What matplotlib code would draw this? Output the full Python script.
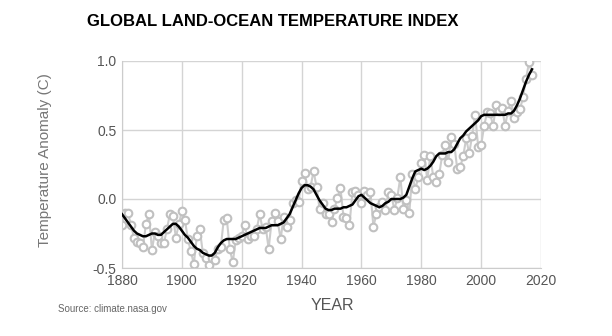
import matplotlib.pyplot as plt
import numpy as np

# GISTEMP annual mean and lowess smoothing, 1880-2017
years = np.arange(1880, 2018)
annual = [-0.19, -0.10, -0.10, -0.19, -0.28, -0.31, -0.32, -0.35, -0.18, -0.11,
          -0.37, -0.24, -0.27, -0.32, -0.32, -0.22, -0.11, -0.12, -0.28, -0.18,
          -0.09, -0.15, -0.29, -0.38, -0.47, -0.27, -0.22, -0.39, -0.43, -0.48,
          -0.43, -0.44, -0.36, -0.35, -0.15, -0.14, -0.36, -0.46, -0.30, -0.28,
          -0.27, -0.19, -0.29, -0.27, -0.27, -0.22, -0.11, -0.22, -0.20, -0.36,
          -0.16, -0.10, -0.16, -0.29, -0.13, -0.20, -0.15, -0.03, -0.01, -0.02,
          0.13, 0.19, 0.07, 0.09, 0.20, 0.09, -0.07, -0.03, -0.11, -0.11,
          -0.17, -0.07, 0.01, 0.08, -0.13, -0.14, -0.19, 0.05, 0.06, 0.03,
          -0.03, 0.06, 0.03, 0.05, -0.20, -0.11, -0.06, -0.02, -0.08, 0.05,
          0.03, -0.08, 0.01, 0.16, -0.07, -0.01, -0.10, 0.18, 0.07, 0.16,
          0.26, 0.32, 0.14, 0.31, 0.16, 0.12, 0.18, 0.32, 0.39, 0.27,
          0.45, 0.40, 0.22, 0.23, 0.31, 0.44, 0.33, 0.46, 0.61, 0.38,
          0.39, 0.53, 0.63, 0.62, 0.53, 0.68, 0.64, 0.66, 0.53, 0.64,
          0.71, 0.59, 0.63, 0.65, 0.74, 0.87, 0.99, 0.90]
smooth = [-0.11, -0.14, -0.17, -0.20, -0.23, -0.25, -0.26, -0.27, -0.27, -0.26,
          -0.25, -0.25, -0.26, -0.26, -0.24, -0.22, -0.20, -0.18, -0.18, -0.20,
          -0.23, -0.26, -0.28, -0.31, -0.34, -0.36, -0.37, -0.39, -0.40, -0.41,
          -0.41, -0.39, -0.35, -0.32, -0.30, -0.29, -0.29, -0.29, -0.29, -0.28,
          -0.27, -0.26, -0.25, -0.24, -0.23, -0.22, -0.21, -0.21, -0.21, -0.20,
          -0.19, -0.19, -0.19, -0.18, -0.17, -0.14, -0.11, -0.06, -0.01, 0.04,
          0.08, 0.10, 0.10, 0.09, 0.07, 0.03, -0.01, -0.04, -0.07, -0.08,
          -0.08, -0.07, -0.07, -0.07, -0.06, -0.06, -0.05, -0.04, -0.01, 0.02,
          0.03, 0.01, -0.01, -0.03, -0.04, -0.05, -0.06, -0.05, -0.03, -0.02,
          -0.00, 0.00, 0.00, -0.00, 0.01, 0.03, 0.09, 0.15, 0.20, 0.21,
          0.22, 0.21, 0.22, 0.24, 0.27, 0.31, 0.33, 0.33, 0.33, 0.34,
          0.34, 0.36, 0.40, 0.44, 0.46, 0.49, 0.51, 0.53, 0.55, 0.57,
          0.60, 0.61, 0.61, 0.61, 0.61, 0.61, 0.61, 0.61, 0.61, 0.62,
          0.62, 0.64, 0.68, 0.73, 0.79, 0.85, 0.90, 0.94]

x_ticks = np.arange(1880, 2021, 20)
y_ticks = [-0.5, 0.0, 0.5, 1.0]

plt.rcParams['font.family'] = ['Liberation Sans', 'DejaVu Sans']
fig = plt.figure(figsize=(6.12, 3.36), dpi=100)
ax = fig.add_axes([122/612, 1 - 268/336, 419/612, 207/336])

ax.plot(years, annual, color='#cccccc', lw=1.5, marker='o', ms=5.5,
        mfc='white', mec='#c0c0c0', mew=1.5, zorder=2)
ax.plot(years, smooth, color='black', lw=1.8, zorder=3)

ax.set_xlim(1880, 2020)
ax.set_ylim(-0.5, 1.0)
ax.set_xticks(x_ticks)
ax.set_yticks(y_ticks)
ax.set_yticklabels(['%.1f' % v for v in y_ticks])
ax.grid(True, color='#d4d4d4', lw=1)
ax.set_axisbelow(True)
for s in ['top', 'right']:
    ax.spines[s].set_visible(False)
for s in ['left', 'bottom']:
    ax.spines[s].set_color('#cccccc')
ax.tick_params(length=0, labelsize=10, colors='#555555', pad=4)

fig.text(273/612, 1 - 22/336, 'GLOBAL LAND-OCEAN TEMPERATURE INDEX',
         ha='center', va='center', fontsize=12, fontweight='bold',
         color='black')
fig.text(45/612, 1 - 160/336, 'Temperature Anomaly (C)', rotation=90,
         ha='center', va='center', fontsize=11, color='#777777')
fig.text(332/612, 1 - 305/336, 'YEAR', ha='center', va='center',
         fontsize=11.5, color='#555555')
fig.text(58/612, 1 - 309/336, 'Source: climate.nasa.gov', ha='left',
         va='center', fontsize=7, color='#666666')

fig.savefig('out.png', dpi=100)
plt.close()
